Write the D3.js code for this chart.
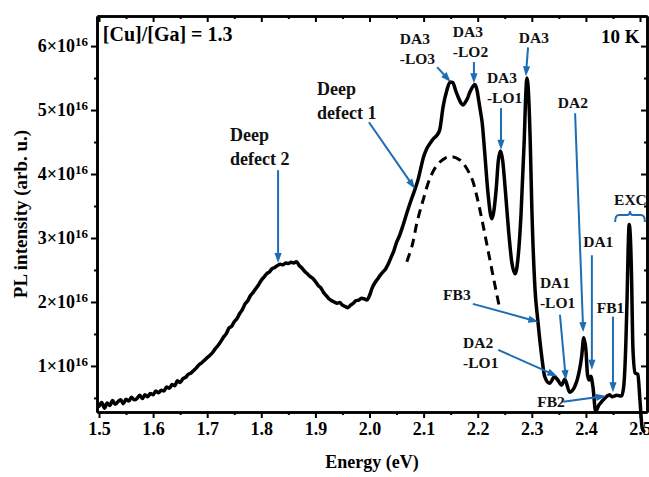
<!DOCTYPE html>
<html>
<head>
<meta charset="utf-8">
<script src="https://cdn.jsdelivr.net/npm/d3@7/dist/d3.min.js"></script>
<style>
  html, body { margin: 0; padding: 0; background: #fff; }
  svg { display: block; }
  text { font-family: "Liberation Serif", "Times New Roman", serif; font-weight: bold; }
</style>
</head>
<body>
<svg id="chart" width="649" height="477"></svg>
<script>
// Photoluminescence spectrum, intensity in units of 1e16 (arb. u.)
const energy = [
  1.500,1.505,1.510,1.515,1.520,1.525,1.530,1.535,1.540,1.545,1.550,1.555,1.560,1.565,1.570,1.575,1.580,1.585,1.590,1.595,
  1.600,1.605,1.610,1.615,1.620,1.625,1.630,1.635,1.640,1.645,1.650,1.655,1.660,1.665,1.670,1.675,1.680,1.685,1.690,1.695,
  1.700,1.710,1.715,1.720,1.725,1.730,1.735,1.740,1.745,1.750,1.755,1.760,1.765,1.770,1.775,1.780,1.785,1.790,1.795,
  1.800,1.805,1.810,1.815,1.820,1.825,1.830,1.835,1.840,1.845,1.850,1.855,1.860,1.865,1.870,1.875,1.880,1.885,1.890,1.895,
  1.900,1.905,1.910,1.915,1.920,1.925,1.930,1.935,1.940,1.945,1.950,1.955,1.960,1.965,1.970,1.975,1.980,1.985,1.990,1.995,
  2.000,2.005,2.010,2.015,2.020,2.025,2.030,2.035,2.040,2.045,2.050,2.056,2.062,2.069,2.076,2.084,2.090,2.095,
  2.100,2.106,2.112,2.119,2.125,2.130,2.136,2.143,2.149,2.154,2.159,2.164,2.169,2.173,2.177,2.181,2.185,2.189,2.195,2.199,
  2.202,2.205,2.208,2.213,2.219,2.226,2.234,2.238,2.242,2.246,2.251,2.257,2.263,2.269,2.275,2.280,2.286,2.289,2.291,2.293,2.297,
  2.300,2.306,2.311,2.318,2.324,2.333,2.342,2.348,2.355,2.361,2.370,2.379,2.387,2.392,2.396,
  2.400,2.403,2.406,2.409,2.413,2.418,2.424,2.429,2.438,2.444,2.448,2.457,2.466,2.470,2.474,2.476,2.478,2.480,2.482,2.484,2.487,
  2.491,2.496,2.500,2.504,2.507
];
const intensity = [
  0.37,0.43,0.34,0.42,0.38,0.46,0.40,0.44,0.47,0.41,0.48,0.45,0.51,0.47,0.49,0.54,0.49,0.55,0.52,0.57,
  0.55,0.61,0.58,0.62,0.61,0.67,0.65,0.71,0.69,0.77,0.74,0.80,0.82,0.87,0.89,0.93,0.97,1.02,1.05,1.09,
  1.13,1.21,1.27,1.32,1.38,1.45,1.50,1.59,1.62,1.69,1.74,1.82,1.88,1.97,2.02,2.10,2.15,2.21,2.27,
  2.34,2.39,2.44,2.47,2.52,2.54,2.57,2.59,2.58,2.61,2.60,2.62,2.61,2.63,2.57,2.53,2.48,2.44,2.40,2.37,
  2.32,2.26,2.22,2.15,2.10,2.05,2.02,2.00,1.98,1.99,1.95,1.93,1.91,1.95,1.98,2.02,2.03,2.06,2.05,2.03,
  2.10,2.22,2.30,2.36,2.42,2.47,2.52,2.60,2.70,2.80,2.93,3.05,3.20,3.39,3.57,3.76,3.92,4.10,
  4.27,4.40,4.48,4.56,4.61,4.70,5.05,5.31,5.44,5.43,5.31,5.20,5.11,5.08,5.12,5.18,5.27,5.34,5.40,5.30,
  5.14,4.98,4.82,4.33,3.70,3.30,3.75,4.20,4.36,4.22,3.75,3.12,2.62,2.44,2.73,3.36,4.53,5.28,5.50,5.39,4.53,
  3.48,2.19,1.72,1.17,0.83,0.73,0.83,0.78,0.70,0.79,0.59,0.67,0.89,1.14,1.44,
  1.25,0.86,0.78,0.84,0.67,0.29,0.39,0.44,0.52,0.55,0.52,0.54,0.53,0.69,1.41,2.03,2.81,3.21,3.04,2.53,1.25,
  0.89,0.87,0.45,0.03,-0.02
];

// Fitted band of deep defect 1 (dashed)
const fitEnergy = [2.069,2.079,2.088,2.099,2.112,2.125,2.140,2.153,2.167,2.178,2.190,2.199,2.208,2.219,2.230,2.241];
const fitIntensity = [2.63,2.89,3.25,3.59,3.94,4.14,4.25,4.27,4.22,4.11,3.91,3.63,3.28,2.81,2.34,1.88];

// Axis ticks
const xTicks = [1.5,1.6,1.7,1.8,1.9,2.0,2.1,2.2,2.3,2.4,2.5];
const xMinorTicks = [1.55,1.65,1.75,1.85,1.95,2.05,2.15,2.25,2.35,2.45];
const yTicks = [1,2,3,4,5,6];
const yMinorTicks = [0.5,1.5,2.5,3.5,4.5,5.5];

// Peak assignments: label lines, text anchor and arrow (energy, intensity)
const labels = [
  { lines: ["Deep", "defect 2"], big: true, tx: 1.742, ty: 4.52, from: [1.831, 4.06], to: [1.831, 2.61] },
  { lines: ["Deep", "defect 1"], big: true, tx: 1.903, ty: 5.23, from: [1.999, 4.81], to: [2.084, 3.77] },
  { lines: ["DA3", "-LO3"], tx: 2.056, ty: 6.03, from: [2.125, 5.67], to: [2.150, 5.44] },
  { lines: ["DA3", "-LO2"], tx: 2.154, ty: 6.14, from: [2.193, 5.75], to: [2.193, 5.42] },
  { lines: ["DA3", "-LO1"], tx: 2.217, ty: 5.42, from: [2.243, 5.03], to: [2.243, 4.38] },
  { lines: ["DA3"], tx: 2.276, ty: 6.05, from: [2.293, 5.98], to: [2.289, 5.53] },
  { lines: ["DA2"], tx: 2.348, ty: 5.03, from: [2.380, 4.95], to: [2.395, 1.53] },
  { lines: ["DA1"], tx: 2.395, ty: 2.86, from: [2.411, 2.73], to: [2.411, 0.94] },
  { lines: ["FB1"], tx: 2.420, ty: 1.83, from: [2.450, 1.77], to: [2.450, 0.59] },
  { lines: ["FB3"], tx: 2.136, ty: 2.03, from: [2.191, 1.97], to: [2.312, 1.69] },
  { lines: ["DA1", "-LO1"], tx: 2.315, ty: 2.22, from: [2.352, 1.80], to: [2.363, 0.78] },
  { lines: ["DA2", "-LO1"], tx: 2.173, ty: 1.28, from: [2.238, 1.25], to: [2.347, 0.84] },
  { lines: ["FB2"], tx: 2.310, ty: 0.36, from: [2.358, 0.44], to: [2.437, 0.53] }
];
const excLabel = { text: "EXC", tx: 2.452, ty: 3.52, x0: 2.454, x1: 2.509, yTop: 3.42, yEnd: 3.25 };
const sampleNote = { text: "[Cu]/[Ga] = 1.3", tx: 1.507, ty: 6.08 };
const tempNote = { text: "10 K", tx: 2.499, ty: 6.05 };

const svg = d3.select("#chart");
const plotLeft = 97, plotRight = 647, plotTop = 16, plotBottom = 412;
const x = d3.scaleLinear().domain([1.4963, 2.5129]).range([plotLeft, plotRight]);
const y = d3.scaleLinear().domain([0.28, 6.47]).range([plotBottom, plotTop]);
const blue = "#1c6db4";

// axes
function styleAxis(g) {
  g.select(".domain").attr("stroke", "#000").attr("stroke-width", 2.6);
  g.selectAll(".tick line").attr("stroke", "#000").attr("stroke-width", 2);
  g.selectAll(".tick text").attr("fill", "#000").attr("font-size", 18)
    .attr("font-family", "Liberation Serif, serif").attr("font-weight", "bold");
}
const fmtX = d3.format(".1f");

svg.append("g").attr("transform", `translate(0,${plotBottom})`)
  .call(d3.axisBottom(x).tickValues(xMinorTicks).tickSize(3).tickFormat("").tickSizeOuter(0))
  .call(styleAxis);
svg.append("g").attr("transform", `translate(0,${plotBottom})`)
  .call(d3.axisBottom(x).tickValues(xTicks).tickSize(6).tickPadding(4).tickFormat(fmtX).tickSizeOuter(0))
  .call(styleAxis);
svg.append("g").attr("transform", `translate(0,${plotTop})`)
  .call(d3.axisTop(x).tickValues(xTicks).tickSize(-6).tickFormat("").tickSizeOuter(0))
  .call(styleAxis);
svg.append("g").attr("transform", `translate(0,${plotTop})`)
  .call(d3.axisTop(x).tickValues(xMinorTicks).tickSize(-3).tickFormat("").tickSizeOuter(0))
  .call(styleAxis);

svg.append("g").attr("transform", `translate(${plotLeft},0)`)
  .call(d3.axisLeft(y).tickValues(yMinorTicks).tickSize(3).tickFormat("").tickSizeOuter(0))
  .call(styleAxis);
const yAxisG = svg.append("g").attr("transform", `translate(${plotLeft},0)`)
  .call(d3.axisLeft(y).tickValues(yTicks).tickSize(6).tickPadding(3).tickSizeOuter(0))
  .call(styleAxis);
yAxisG.selectAll(".tick text").each(function(d) {
  const t = d3.select(this);
  t.text(null);
  t.append("tspan").text(`${d}×10`);
  t.append("tspan").attr("dy", "-0.5em").attr("font-size", "0.72em").text("16");
});
svg.append("g").attr("transform", `translate(${plotRight},0)`)
  .call(d3.axisRight(y).tickValues(yTicks).tickSize(-6).tickFormat("").tickSizeOuter(0))
  .call(styleAxis);
svg.append("g").attr("transform", `translate(${plotRight},0)`)
  .call(d3.axisRight(y).tickValues(yMinorTicks).tickSize(-3).tickFormat("").tickSizeOuter(0))
  .call(styleAxis);

// axis titles
svg.append("text").attr("x", (plotLeft + plotRight) / 2).attr("y", 468)
  .attr("text-anchor", "middle").attr("font-size", 18).text("Energy (eV)");
svg.append("text").attr("transform", `translate(27,${(plotTop + plotBottom) / 2}) rotate(-90)`)
  .attr("text-anchor", "middle").attr("font-size", 19).text("PL intensity (arb. u.)");

// spectrum
const pts = energy.map((e, i) => [e, intensity[i]]);
const line = d3.line().x(d => x(d[0])).y(d => y(d[1])).curve(d3.curveMonotoneX);
svg.append("path").datum(pts).attr("d", line)
  .attr("fill", "none").attr("stroke", "#000").attr("stroke-width", 3.5)
  .attr("stroke-linejoin", "round").attr("stroke-linecap", "round");

// fitted band
const fitPts = fitEnergy.map((e, i) => [e, fitIntensity[i]]);
svg.append("path").datum(fitPts).attr("d", d3.line().x(d => x(d[0])).y(d => y(d[1])).curve(d3.curveCatmullRom))
  .attr("fill", "none").attr("stroke", "#000").attr("stroke-width", 3)
  .attr("stroke-dasharray", "9,6");

// notes
svg.append("text").attr("x", x(sampleNote.tx)).attr("y", y(sampleNote.ty))
  .attr("font-size", 20).text(sampleNote.text);
svg.append("text").attr("x", x(tempNote.tx)).attr("y", y(tempNote.ty))
  .attr("text-anchor", "end").attr("font-size", 19).text(tempNote.text);

// arrows
const headLen = 10, headHalf = 3.6;
labels.forEach(l => {
  const g = svg.append("g");
  const fs = l.big ? 18 : 15.5;
  l.lines.forEach((s, i) => {
    g.append("text").attr("x", x(l.tx)).attr("y", y(l.ty) + i * (l.big ? 24 : 20))
      .attr("font-size", fs).attr("fill", "#111").text(s);
  });
  const x0 = x(l.from[0]), y0 = y(l.from[1]), x1 = x(l.to[0]), y1 = y(l.to[1]);
  const dx = x1 - x0, dy = y1 - y0, len = Math.hypot(dx, dy);
  const ux = dx / len, uy = dy / len;
  const bx = x1 - ux * headLen, by = y1 - uy * headLen;
  g.append("line").attr("x1", x0).attr("y1", y0).attr("x2", bx + ux * 2).attr("y2", by + uy * 2)
    .attr("stroke", blue).attr("stroke-width", 2);
  g.append("path")
    .attr("d", `M${x1},${y1}L${bx - uy * headHalf},${by + ux * headHalf}L${bx + uy * headHalf},${by - ux * headHalf}Z`)
    .attr("fill", blue);
});

// exciton bracket
svg.append("text").attr("x", x(excLabel.tx)).attr("y", y(excLabel.ty))
  .attr("font-size", 15.5).attr("fill", "#111").text(excLabel.text);
{
  const bx0 = x(excLabel.x0), bx1 = x(excLabel.x1), bm = (bx0 + bx1) / 2;
  const yt = y(excLabel.yTop), ye = y(excLabel.yEnd), ym = yt + 4;
  svg.append("path")
    .attr("d", `M${bx0},${ye}Q${bx0},${ym} ${bx0 + 4},${ym}L${bm - 3},${ym}Q${bm},${ym} ${bm},${yt}Q${bm},${ym} ${bm + 3},${ym}L${bx1 - 4},${ym}Q${bx1},${ym} ${bx1},${ye}`)
    .attr("fill", "none").attr("stroke", blue).attr("stroke-width", 2);
}
</script>
</body>
</html>
